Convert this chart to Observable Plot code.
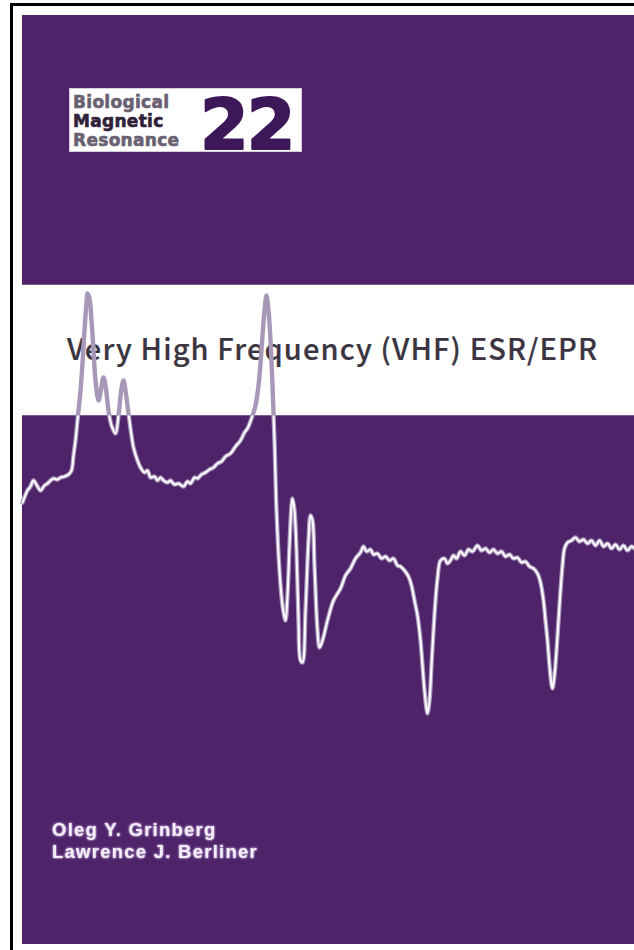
<!DOCTYPE html>
<html>
<head>
<meta charset="utf-8">
<script src="https://cdn.jsdelivr.net/npm/d3@7"></script>
<script src="https://cdn.jsdelivr.net/npm/@observablehq/plot@0.6"></script>
<style>
  html, body { margin: 0; padding: 0; background: #fff; }
  #page { position: relative; width: 634px; height: 950px; overflow: hidden; background: #fff; }
  .abs { position: absolute; }
  #lineL { left: 10px; top: 3px; width: 3px; height: 947px; background: #000; }
  #lineT { left: 10px; top: 3px; width: 624px; height: 3px; background: #000; }
  #cover { left: 22px; top: 15px; width: 612px; height: 929px; background: #4f2369; }
  #band { left: 22px; top: 285px; width: 612px; height: 130px; background: #fff;
          box-shadow: 0 -1px 0 #7b5b93, 0 1px 0 #7b5b93; }
  #logo { left: 69px; top: 88px; width: 233px; height: 64px; background: #fff; box-sizing: border-box; border: 1px solid #d6cce0; }
  #chart { left: 22px; top: 15px; }
  .authors { font-family: "Liberation Sans", "DejaVu Sans", sans-serif; font-weight: bold; font-size: 18.5px; fill: #f4eef9; letter-spacing: 1.25px; }
</style>
</head>
<body>
<div id="page">
  <div id="lineL" class="abs"></div>
  <div id="lineT" class="abs"></div>
  <div id="cover" class="abs"></div>
  <div id="band" class="abs"></div>
  <div id="logo" class="abs"></div>
  <svg class="abs" style="left:0;top:0" width="634" height="950" id="texts">
    <defs>
      <filter id="glow" x="-10%" y="-30%" width="120%" height="160%">
        <feGaussianBlur in="SourceAlpha" stdDeviation="1.2" result="b"/>
        <feFlood flood-color="#b49bcc"/>
        <feComposite in2="b" operator="in" result="g"/>
        <feMerge><feMergeNode in="g"/><feMergeNode in="g"/><feMergeNode in="SourceGraphic"/></feMerge>
      </filter>
    </defs>
    <g id="logoText" font-family="DejaVu Sans, sans-serif" font-weight="bold" font-size="17" letter-spacing="0.3" paint-order="stroke">
      <text id="l1" x="73" y="107.5" fill="#696171" stroke="#696171" stroke-width="0.6"></text>
      <text id="l2" x="73" y="126.5" fill="#2e2139" stroke="#2e2139" stroke-width="0.6"></text>
      <text id="l3" x="73" y="145.5" fill="#696171" stroke="#696171" stroke-width="0.6"></text>
      <text id="vol" x="200" y="148.5" font-size="70" letter-spacing="-2" fill="#3d1858" stroke="#3d1858" stroke-width="2" stroke-linejoin="round"></text>
    </g>
    <text id="title" x="67" y="360" font-family="Noto Sans CJK SC, Noto Sans, sans-serif" font-weight="500" font-size="29" fill="#3b3542" stroke="#3b3542" stroke-width="0.2" textLength="530" lengthAdjust="spacing"></text>
    <g filter="url(#glow)">
      <text id="a1" class="authors" x="52" y="836"></text>
      <text id="a2" class="authors" x="52" y="858"></text>
    </g>
  </svg>
  <div id="chart" class="abs"></div>
</div>
<script>
// ---- text content ----
const seriesLines = ["Biological", "Magnetic", "Resonance"];
const volume = "22";
const title = "Very High Frequency (VHF) ESR/EPR";
const authors = ["Oleg Y. Grinberg", "Lawrence J. Berliner"];

// ---- spectrum (field offset, signal) ----
const field = [
  0, 2.5, 4, 5.5, 7.5, 9, 11, 12.5, 14, 15.5, 17.5, 19, 21, 23, 24.5, 25.5, 26.5, 27.5, 29, 30,
  31, 32, 32.5, 33.5, 34.5, 35.5, 36.5, 38, 39, 40.5, 41.5, 43, 44.5, 46.5, 48, 49.5, 50.5, 51.5, 53, 54.5,
  55.5, 57.5, 59, 61, 62.5, 64, 66, 67.5, 69, 70.5, 72.5, 74, 76, 78, 80.5, 82.5, 84, 86, 87.5, 89.5,
  91.5, 93.5, 95.5, 97.5, 99.5, 101.5, 104, 106.5, 109, 111, 112.5, 114.5, 116.5, 118, 119, 120, 121, 122, 123, 124,
  125, 126, 127, 128.5, 130, 131.5, 132.5, 133.5, 134.5, 135, 136, 137, 138, 139, 140, 141.5, 143, 144, 145, 146,
  147.5, 148.5, 150, 152.5, 155.5, 159, 161.5, 164, 166.5, 169, 170.5, 172, 174, 175.5, 177.5, 179.5, 181.5, 183.5, 185.5, 187.5,
  189, 191, 193, 194.5, 196, 197.5, 199, 200, 201, 202, 202.5, 203.5, 204.5, 205.5, 206.5, 207.5, 209, 211, 212.5, 214,
  215.5, 217, 219, 221, 223, 225, 227.5, 229.5, 231.5, 233.5, 235.5, 237.5, 239.5, 241.5, 243.5, 245.5, 247.5, 249.5, 251.5, 253.5,
  255.5, 257.5, 259, 260.5, 261.5, 262.5, 263.5, 264.5, 265, 266, 267, 268, 269, 270, 271, 272.5, 274.5, 276.5, 278.5, 280.5,
  282.5, 284.5, 286.5, 288.5, 290.5, 292.5, 294.5, 296.5, 298.5, 300.5, 302.5, 304.5, 306
];
const signal = [
  22.5, 28.5, 30.5, 33.5, 30.5, 28.5, 31, 32, 33.5, 34.5, 34, 35, 35.5, 36.5, 38.5, 46, 53.5, 63.5, 78.5, 92,
  108.5, 122.5, 127, 124.5, 113.5, 98.5, 83.5, 73.5, 77.5, 85, 81, 68.5, 61, 57, 66, 79.5, 83.5, 78.5, 67, 56,
  50, 43.5, 40, 37.5, 38.5, 35, 35.5, 33.5, 35, 33.5, 32.5, 33.5, 31.5, 32, 30.5, 33, 32, 35, 34.5, 36.5,
  37.5, 39, 40, 42, 43, 45.5, 47, 50.5, 53.5, 57.5, 59.5, 64.5, 71, 81, 92, 106, 118.5, 126, 118.5, 103.5,
  81, 53.5, 18.5, -11.5, -29, -36.5, -24, 1, 21, 24.5, 18.5, -1.5, -36.5, -56.5, -57.5, -31.5, 3.5, 16, 13.5, -9,
  -41.5, -50, -46.5, -36.5, -26.5, -20.5, -14, -10.5, -5.5, -2.5, 0.5, -2, -1, -3.5, -3, -5.5, -4.5, -6.5, -5.5, -9,
  -9.5, -11.5, -14.5, -19, -26.5, -34, -46.5, -59, -71.5, -80.5, -83, -76.5, -59, -41.5, -26.5, -15.5, -6.5, -5.5, -8, -6.5,
  -4, -5.5, -2, -4, -1, -2, 1, -1.5, -0.5, -2.5, -1, -3, -2, -4.5, -3.5, -5.5, -5, -7.5, -7, -9.5,
  -10.5, -13, -17.5, -26.5, -36.5, -46.5, -59, -68.5, -70.5, -64, -51.5, -36.5, -21.5, -9, -0.5, 2.5, 3.5, 5, 3, 4,
  2, 3.5, 1, 3.5, 0.5, 2, -0.5, 1.5, -1, 1, -1.5, 0.5, -0.5
];

const spectrum = field.map((f, i) => ({field: f, signal: signal[i]}));

// ---- text ----
["l1", "l2", "l3"].forEach((id, i) => document.getElementById(id).textContent = seriesLines[i]);
document.getElementById("vol").textContent = volume;
document.getElementById("title").textContent = title;
document.getElementById("a1").textContent = authors[0];
document.getElementById("a2").textContent = authors[1];

// ---- chart ----
const W = 612, H = 929;
const chart = Plot.plot({
  width: W,
  height: H,
  margin: 0,
  x: {domain: [0, 306], range: [0, W], axis: null},
  y: {domain: [0, 100], range: [532, 332], axis: null},
  style: {background: "transparent", overflow: "visible"},
  marks: [
    Plot.line(spectrum, {x: "field", y: "signal", stroke: "#a798b7", strokeWidth: 4.4, curve: "catmull-rom", strokeLinejoin: "round"}),
    Plot.line(spectrum, {x: "field", y: "signal", stroke: "#fcf8ff", strokeWidth: 2.1, curve: "catmull-rom", strokeLinejoin: "round"})
  ]
});
document.getElementById("chart").appendChild(chart);

// clip the bright core of the trace so that inside the white title band only the grey trace shows
const svg = d3.select(chart);
const bandBottom = 415 - 15, bandTop = 285 - 15;
const cp = svg.append("defs").append("clipPath").attr("id", "outsideBand");
cp.append("rect").attr("x", -5).attr("y", bandBottom).attr("width", W + 10).attr("height", H - bandBottom);
cp.append("rect").attr("x", -5).attr("y", 0).attr("width", W + 10).attr("height", bandTop);
const lines = svg.selectAll("g[aria-label='line']").nodes();
d3.select(lines[1]).attr("clip-path", "url(#outsideBand)");
</script>
</body>
</html>
